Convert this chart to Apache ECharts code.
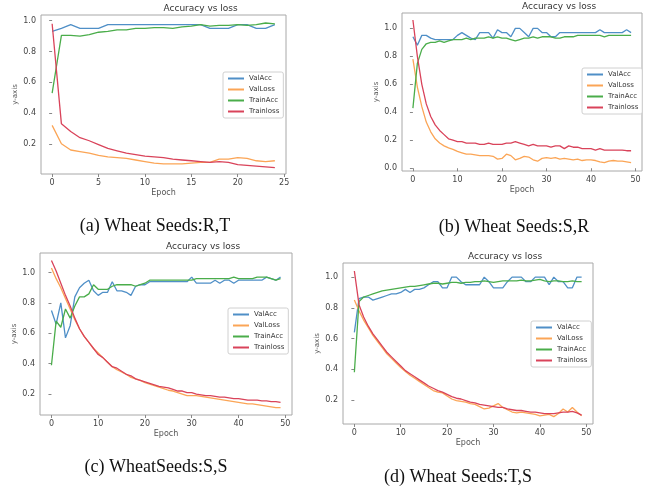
<!DOCTYPE html>
<html>
<head>
<meta charset="utf-8">
<script src="https://cdn.jsdelivr.net/npm/echarts@6/dist/echarts.min.js"></script>
<style>
  html, body { margin: 0; padding: 0; background: #fff; }
  #main { width: 650px; height: 489px; }
</style>
</head>
<body>
<div id="main"></div>
<script>
// series names and colours
var seriesNames = ['ValAcc', 'ValLoss', 'TrainAcc', 'Trainloss'];
var seriesColors = ['#4f8fc7', '#fba556', '#4aad4a', '#d9435a'];

// (a) Wheat Seeds:R,T  - 25 epochs
var aValAcc = [0.93, 0.95, 0.975, 0.95, 0.95, 0.95, 0.975, 0.975, 0.975, 0.975, 0.975, 0.975, 0.975, 0.975, 0.975, 0.975, 0.975, 0.95, 0.95, 0.95, 0.975, 0.975, 0.95, 0.95, 0.975];
var aValLoss = [0.32, 0.20, 0.16, 0.15, 0.14, 0.125, 0.115, 0.11, 0.105, 0.095, 0.085, 0.075, 0.07, 0.07, 0.07, 0.075, 0.08, 0.08, 0.10, 0.10, 0.11, 0.105, 0.09, 0.085, 0.09];
var aTrainAcc = [0.53, 0.905, 0.905, 0.90, 0.91, 0.925, 0.93, 0.94, 0.94, 0.95, 0.95, 0.955, 0.955, 0.95, 0.96, 0.965, 0.975, 0.965, 0.97, 0.97, 0.975, 0.97, 0.975, 0.985, 0.98];
var aTrainLoss = [0.98, 0.33, 0.28, 0.24, 0.22, 0.195, 0.17, 0.155, 0.14, 0.13, 0.12, 0.115, 0.11, 0.10, 0.095, 0.09, 0.085, 0.08, 0.085, 0.08, 0.065, 0.06, 0.055, 0.05, 0.045];

// (b) Wheat Seeds:S,R  - 50 epochs
var bValAcc = [0.94, 0.88, 0.95, 0.95, 0.93, 0.92, 0.92, 0.92, 0.92, 0.92, 0.95, 0.97, 0.95, 0.93, 0.92, 0.97, 0.97, 0.97, 0.93, 0.99, 0.97, 0.97, 0.94, 1.0, 1.0, 0.97, 0.94, 1.0, 1.0, 0.97, 0.97, 0.94, 0.94, 0.97, 0.97, 0.97, 0.97, 0.97, 0.97, 0.97, 0.97, 0.97, 0.99, 0.97, 0.97, 0.97, 0.97, 0.97, 0.99, 0.97];
var bValLoss = [0.78, 0.58, 0.44, 0.33, 0.26, 0.21, 0.18, 0.16, 0.145, 0.135, 0.12, 0.11, 0.10, 0.10, 0.095, 0.09, 0.09, 0.09, 0.085, 0.065, 0.07, 0.10, 0.09, 0.06, 0.07, 0.085, 0.08, 0.06, 0.05, 0.07, 0.075, 0.07, 0.075, 0.065, 0.07, 0.065, 0.06, 0.065, 0.055, 0.06, 0.06, 0.055, 0.045, 0.04, 0.05, 0.055, 0.05, 0.05, 0.045, 0.04];
var bTrainAcc = [0.43, 0.75, 0.85, 0.89, 0.90, 0.90, 0.91, 0.90, 0.91, 0.92, 0.92, 0.92, 0.93, 0.92, 0.93, 0.93, 0.93, 0.94, 0.93, 0.94, 0.93, 0.93, 0.92, 0.91, 0.92, 0.93, 0.93, 0.94, 0.93, 0.94, 0.94, 0.94, 0.93, 0.93, 0.94, 0.94, 0.94, 0.95, 0.95, 0.95, 0.95, 0.95, 0.95, 0.94, 0.95, 0.95, 0.95, 0.95, 0.95, 0.95];
var bTrainLoss = [1.06, 0.80, 0.60, 0.46, 0.37, 0.31, 0.27, 0.24, 0.21, 0.20, 0.19, 0.19, 0.18, 0.18, 0.18, 0.17, 0.17, 0.18, 0.17, 0.17, 0.17, 0.18, 0.18, 0.19, 0.18, 0.17, 0.16, 0.17, 0.16, 0.16, 0.16, 0.15, 0.16, 0.16, 0.14, 0.16, 0.15, 0.15, 0.14, 0.14, 0.14, 0.13, 0.14, 0.13, 0.13, 0.13, 0.13, 0.13, 0.125, 0.125];

// (c) WheatSeeds:S,S  - 50 epochs
var cValAcc = [0.75, 0.66, 0.80, 0.57, 0.65, 0.84, 0.90, 0.93, 0.95, 0.88, 0.85, 0.87, 0.87, 0.94, 0.88, 0.88, 0.87, 0.85, 0.91, 0.92, 0.92, 0.94, 0.94, 0.94, 0.94, 0.94, 0.94, 0.94, 0.94, 0.94, 0.97, 0.93, 0.93, 0.93, 0.93, 0.95, 0.93, 0.95, 0.95, 0.93, 0.95, 0.95, 0.95, 0.95, 0.95, 0.95, 0.97, 0.96, 0.95, 0.97];
var cValLoss = [1.03, 0.96, 0.90, 0.83, 0.76, 0.69, 0.63, 0.58, 0.54, 0.50, 0.47, 0.44, 0.41, 0.38, 0.36, 0.345, 0.33, 0.31, 0.30, 0.29, 0.275, 0.265, 0.255, 0.245, 0.235, 0.225, 0.22, 0.21, 0.20, 0.19, 0.19, 0.19, 0.185, 0.18, 0.175, 0.17, 0.165, 0.16, 0.155, 0.15, 0.145, 0.14, 0.135, 0.135, 0.13, 0.125, 0.12, 0.115, 0.11, 0.11];
var cTrainAcc = [0.39, 0.68, 0.64, 0.76, 0.70, 0.78, 0.84, 0.84, 0.86, 0.92, 0.89, 0.89, 0.89, 0.91, 0.92, 0.92, 0.92, 0.92, 0.91, 0.92, 0.93, 0.95, 0.95, 0.95, 0.95, 0.95, 0.95, 0.95, 0.95, 0.95, 0.95, 0.96, 0.96, 0.96, 0.96, 0.96, 0.96, 0.96, 0.96, 0.97, 0.96, 0.96, 0.96, 0.96, 0.97, 0.97, 0.97, 0.96, 0.95, 0.96];
var cTrainLoss = [1.08, 1.01, 0.93, 0.85, 0.78, 0.70, 0.63, 0.58, 0.54, 0.50, 0.46, 0.44, 0.41, 0.38, 0.37, 0.35, 0.33, 0.32, 0.30, 0.29, 0.28, 0.27, 0.26, 0.25, 0.245, 0.24, 0.23, 0.22, 0.22, 0.21, 0.21, 0.20, 0.195, 0.19, 0.19, 0.185, 0.18, 0.18, 0.175, 0.17, 0.17, 0.165, 0.16, 0.16, 0.16, 0.155, 0.155, 0.15, 0.15, 0.145];

// (d) Wheat Seeds:T,S  - 50 epochs
var dValAcc = [0.64, 0.86, 0.87, 0.87, 0.85, 0.86, 0.87, 0.88, 0.89, 0.89, 0.90, 0.92, 0.90, 0.92, 0.92, 0.93, 0.95, 0.97, 0.97, 0.93, 0.93, 1.0, 1.0, 0.97, 0.95, 0.95, 0.95, 0.95, 1.0, 0.97, 0.93, 0.93, 0.93, 0.97, 1.0, 1.0, 1.0, 0.97, 0.97, 1.0, 1.0, 1.0, 0.95, 1.0, 0.97, 0.97, 0.93, 0.93, 1.0, 1.0];
var dValLoss = [0.85, 0.78, 0.72, 0.67, 0.62, 0.58, 0.54, 0.50, 0.47, 0.44, 0.41, 0.385, 0.36, 0.34, 0.32, 0.30, 0.28, 0.26, 0.25, 0.245, 0.225, 0.205, 0.195, 0.19, 0.185, 0.175, 0.17, 0.155, 0.14, 0.145, 0.16, 0.175, 0.15, 0.135, 0.12, 0.115, 0.12, 0.115, 0.11, 0.105, 0.095, 0.10, 0.105, 0.09, 0.11, 0.14, 0.12, 0.15, 0.12, 0.095];
var dTrainAcc = [0.38, 0.84, 0.87, 0.88, 0.89, 0.90, 0.91, 0.915, 0.92, 0.925, 0.93, 0.935, 0.94, 0.94, 0.945, 0.95, 0.955, 0.96, 0.96, 0.955, 0.96, 0.965, 0.965, 0.96, 0.965, 0.965, 0.97, 0.97, 0.975, 0.97, 0.965, 0.97, 0.975, 0.975, 0.975, 0.975, 0.98, 0.975, 0.975, 0.98, 0.985, 0.975, 0.97, 0.975, 0.975, 0.97, 0.97, 0.975, 0.97, 0.97];
var dTrainLoss = [1.04, 0.82, 0.74, 0.68, 0.63, 0.59, 0.55, 0.51, 0.48, 0.45, 0.42, 0.39, 0.37, 0.35, 0.33, 0.31, 0.29, 0.275, 0.26, 0.25, 0.235, 0.22, 0.21, 0.205, 0.195, 0.185, 0.18, 0.17, 0.165, 0.16, 0.155, 0.15, 0.15, 0.14, 0.135, 0.13, 0.13, 0.125, 0.12, 0.12, 0.115, 0.11, 0.11, 0.11, 0.115, 0.12, 0.12, 0.125, 0.115, 0.10];

// tick labels
var xTicks25 = [0, 5, 10, 15, 20, 25];
var xTicks50 = [0, 10, 20, 30, 40, 50];
var yTicksFrom0 = [0.0, 0.2, 0.4, 0.6, 0.8, 1.0];
var yTicksFrom02 = [0.2, 0.4, 0.6, 0.8, 1.0];

var panels = [
  { caption: '(a) Wheat Seeds:R,T', series: [aValAcc, aValLoss, aTrainAcc, aTrainLoss],
    grid: { left: 41, top: 15, width: 245, height: 159 },
    x: [-1.2, 25.2], xTicks: xTicks25, y: [0.004, 1.037], yTicks: yTicksFrom02,
    legend: { left: 223, top: 72 }, cap: [155, 226] },
  { caption: '(b) Wheat Seeds:S,R', series: [bValAcc, bValLoss, bTrainAcc, bTrainLoss],
    grid: { left: 402, top: 13, width: 240, height: 158 },
    x: [-2.45, 51.45], xTicks: xTicks50, y: [-0.02, 1.11], yTicks: yTicksFrom0,
    legend: { left: 582, top: 68 }, cap: [514, 227] },
  { caption: '(c) WheatSeeds:S,S', series: [cValAcc, cValLoss, cTrainAcc, cTrainLoss],
    grid: { left: 40, top: 253, width: 252, height: 162 },
    x: [-2.45, 51.45], xTicks: xTicks50, y: [0.062, 1.129], yTicks: yTicksFrom02,
    legend: { left: 228, top: 308 }, cap: [156, 467] },
  { caption: '(d) Wheat Seeds:T,S', series: [dValAcc, dValLoss, dTrainAcc, dTrainLoss],
    grid: { left: 343, top: 263, width: 250, height: 161 },
    x: [-2.45, 51.45], xTicks: xTicks50, y: [0.042, 1.092], yTicks: yTicksFrom02,
    legend: { left: 531, top: 321 }, cap: [458, 477] }
];

var tickFont = { fontFamily: 'DejaVu Sans', fontSize: 8, color: '#444' };

var grids = [], xAxes = [], yAxes = [], allSeries = [], legends = [], graphics = [];

panels.forEach(function (p, k) {
  grids.push({ left: p.grid.left, top: p.grid.top, width: p.grid.width, height: p.grid.height,
    show: true, borderColor: '#a8a8a8', borderWidth: 1, backgroundColor: '#fff' });

  xAxes.push({
    type: 'value', gridIndex: k, min: p.x[0], max: p.x[1],
    name: 'Epoch', nameLocation: 'middle', nameGap: 15,
    nameTextStyle: { fontFamily: 'DejaVu Sans', fontSize: 8, color: '#555' },
    axisLine: { show: false },
    axisTick: { show: true, length: 3, lineStyle: { color: '#888' }, customValues: p.xTicks },
    axisLabel: Object.assign({ margin: 5, customValues: p.xTicks,
      formatter: function (v) { return String(v); } }, tickFont),
    splitLine: { show: false }
  });

  yAxes.push({
    type: 'value', gridIndex: k, min: p.y[0], max: p.y[1],
    name: 'y-axis', nameLocation: 'middle', nameGap: 22,
    nameTextStyle: { fontFamily: 'DejaVu Sans', fontSize: 7, color: '#555' },
    axisLine: { show: false },
    axisTick: { show: true, length: 3, lineStyle: { color: '#888' }, customValues: p.yTicks },
    axisLabel: Object.assign({ margin: 5, customValues: p.yTicks,
      formatter: function (v) { return v.toFixed(1); } }, tickFont),
    splitLine: { show: false }
  });

  p.series.forEach(function (arr, j) {
    allSeries.push({
      name: seriesNames[j], type: 'line', xAxisIndex: k, yAxisIndex: k,
      data: arr.map(function (v, i) { return [i, v]; }),
      showSymbol: false, symbol: 'none', silent: true,
      color: seriesColors[j],
      lineStyle: { width: 1.3, color: seriesColors[j] },
      z: 2 + j
    });
  });

  legends.push({
    left: p.legend.left, top: p.legend.top, orient: 'vertical',
    data: seriesNames, icon: 'rect', itemWidth: 16, itemHeight: 2, itemGap: 2,
    padding: [2, 4, 2, 5], borderColor: '#d0d0d0', borderWidth: 1, borderRadius: 2,
    backgroundColor: 'rgba(255,255,255,0.9)', selectedMode: false,
    textStyle: { fontFamily: 'DejaVu Sans', fontSize: 7, color: '#333', lineHeight: 9 }
  });

  graphics.push({
    type: 'text', left: p.grid.left + p.grid.width / 2, top: p.grid.top - 11,
    style: { text: 'Accuracy vs loss', font: '9px "DejaVu Sans"', fill: '#333', textAlign: 'center' }
  });
  graphics.push({
    type: 'text', x: p.cap[0], y: p.cap[1],
    style: { text: p.caption, font: '18px "Liberation Serif"', fill: '#111',
      textAlign: 'center', textVerticalAlign: 'middle' }
  });
});

var chart = echarts.init(document.getElementById('main'));
chart.setOption({
  animation: false,
  backgroundColor: '#fff',
  grid: grids,
  xAxis: xAxes,
  yAxis: yAxes,
  legend: legends,
  series: allSeries,
  graphic: graphics
});
</script>
</body>
</html>
